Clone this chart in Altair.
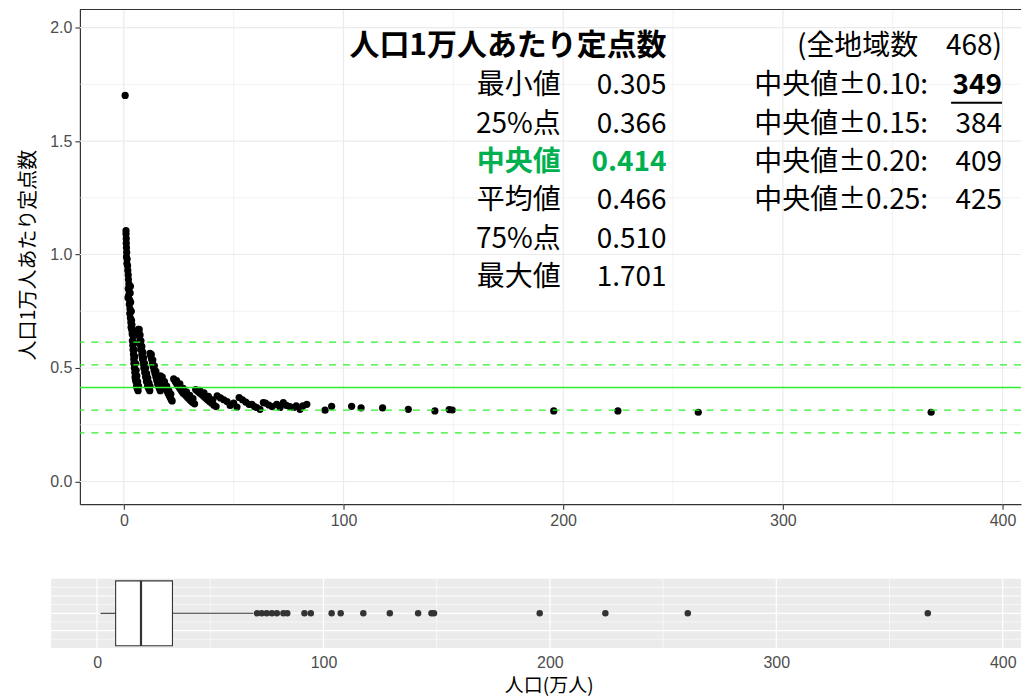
import altair as alt
import pandas as pd

CJK = "Noto Sans CJK JP"
LAT = "Liberation Sans"

# ---------------- data ----------------
# population (10k people) and fixed points per 10k people
pop_man = [
    0.6,
    1.0, 1.0, 1.1, 1.1, 1.2, 1.3, 1.2, 1.5, 1.4, 1.7, 1.8, 2.0, 2.1, 2.3, 2.0, 2.4, 2.2, 1.9, 2.6, 2.5, 2.8, 2.7, 3.0, 3.2, 3.3, 3.6,
    2.9, 3.1, 3.4, 3.0, 3.5, 3.7, 3.9,
    3.8, 3.9, 4.1, 4.2, 4.4, 4.5, 4.6, 4.8, 5.0, 5.1, 5.3, 5.5, 5.8, 6.1, 6.5,
    4.3, 4.6, 4.8, 5.0, 5.3, 5.6, 5.9, 6.3, 6.7,
    6.6, 6.9, 7.1, 7.3, 7.6, 7.9, 8.2, 8.5, 8.8, 9.1, 9.5, 9.9, 10.3, 10.8, 11.3, 11.8,
    7.0, 7.4, 7.8, 8.2, 8.6, 9.0, 9.4, 9.9, 10.4, 10.9, 11.4, 11.9,
    11.9, 12.2, 12.6, 13.0, 13.4, 13.8, 14.2, 14.6, 15.0, 15.4, 15.8, 16.2, 16.6,
    12.5, 13.2, 13.9, 14.6, 15.3, 16.0,
    16.7, 17.1, 17.6, 18.1, 18.6, 19.1, 19.6, 20.1, 20.6, 21.1, 21.6, 22.0,
    17.5, 18.5, 19.5, 20.5, 21.4,
    22.7, 23.4, 24.1, 24.8, 25.5, 26.2, 26.9, 27.6, 28.3, 29.0, 29.8, 30.6, 31.4, 32.2,
    24.0, 25.5, 27.0, 28.5, 30.0, 31.5,
    32.7, 33.6, 34.5, 35.4, 36.3, 37.2, 38.1, 39.0, 40.0, 41.0, 42.0,
    34.5, 36.5, 38.5, 40.5,
    42.5, 44.0, 45.5, 47.0, 48.4, 50.0, 51.5, 52.5, 54.0, 55.5, 57.0, 58.3, 59.5, 60.5, 62.0,
    63.5, 64.5, 66.0, 67.5, 69.6, 71.1, 72.6, 74.0, 75.5, 77.2, 78.5, 80.2, 81.5, 83.3,
    91.6, 94.6, 103.7, 108.0, 117.8, 129.5, 141.6, 148.1, 149.5, 195.7, 224.9, 261.5, 367.5,
]
rate = [
    1.701,
    1.105, 1.09, 1.07, 1.05, 1.03, 1.01, 0.99, 0.98, 0.96, 0.95, 0.93, 0.91, 0.89, 0.87, 0.85, 0.84, 0.82, 0.81, 0.80, 0.78, 0.76, 0.74, 0.72, 0.70, 0.68, 0.67,
    0.83, 0.79, 0.75, 0.86, 0.71, 0.69, 0.66,
    0.65, 0.62, 0.60, 0.58, 0.56, 0.54, 0.52, 0.50, 0.48, 0.46, 0.45, 0.44, 0.42, 0.41, 0.40,
    0.64, 0.61, 0.58, 0.55, 0.52, 0.49, 0.465, 0.44, 0.42,
    0.67, 0.655, 0.64, 0.62, 0.60, 0.58, 0.56, 0.54, 0.52, 0.50, 0.48, 0.46, 0.44, 0.42, 0.41, 0.40,
    0.67, 0.645, 0.62, 0.595, 0.57, 0.545, 0.52, 0.50, 0.475, 0.455, 0.435, 0.42,
    0.565, 0.555, 0.54, 0.52, 0.505, 0.49, 0.475, 0.46, 0.445, 0.43, 0.42, 0.41, 0.40,
    0.56, 0.535, 0.51, 0.485, 0.46, 0.44,
    0.465, 0.455, 0.445, 0.435, 0.42, 0.41, 0.40, 0.39, 0.38, 0.37, 0.36, 0.355,
    0.46, 0.44, 0.42, 0.40, 0.385,
    0.452, 0.44, 0.43, 0.42, 0.41, 0.40, 0.39, 0.385, 0.378, 0.37, 0.362, 0.355, 0.348, 0.342,
    0.445, 0.43, 0.41, 0.395, 0.38, 0.365,
    0.405, 0.398, 0.39, 0.383, 0.376, 0.368, 0.36, 0.352, 0.345, 0.336, 0.33,
    0.402, 0.39, 0.375, 0.36,
    0.377, 0.368, 0.36, 0.352, 0.335, 0.345, 0.328, 0.37, 0.36, 0.35, 0.34, 0.34, 0.33, 0.326, 0.318,
    0.348, 0.345, 0.337, 0.33, 0.34, 0.326, 0.348, 0.335, 0.33, 0.326, 0.333, 0.318, 0.333, 0.34,
    0.314, 0.331, 0.331, 0.324, 0.324, 0.318, 0.311, 0.317, 0.315, 0.311, 0.311, 0.305, 0.305,
]

stat_labels = ["最小値", "25%点", "中央値", "平均値", "75%点", "最大値"]
stat_values = ["0.305", "0.366", "0.414", "0.466", "0.510", "1.701"]
range_labels = ["中央値±0.10:", "中央値±0.15:", "中央値±0.20:", "中央値±0.25:"]
range_counts = ["349", "384", "409", "425"]
total_regions = "468"
median_rate = 0.414
band_offsets = [0.1, 0.2]

box_lower, box_q1, box_median, box_q3, box_upper = 1.5, 8.2, 19.4, 33.3, 68.9
box_outliers = [70.6, 72.7, 74.9, 77.2, 79.4, 82.3, 84.0, 91.6, 94.4, 103.6, 107.6,
                117.6, 129.3, 141.8, 147.7, 148.8, 195.5, 224.5, 260.9, 366.9]

x_major = [0, 100, 200, 300, 400]
x_minor = [50, 150, 250, 350]
y_major = [0.0, 0.5, 1.0, 1.5, 2.0]
y_minor = [0.25, 0.75, 1.25, 1.75]
b_major = [-0.2, 0.0, 0.2]
b_minor = [-0.3, -0.1, 0.1, 0.3]

# ---------------- layout ----------------
W = 942.5
H_TOP = 495.4
H_BOT = 69.4
xs = alt.Scale(domain=[-20, -20 + W / 2.2], nice=False, zero=False)
ys = alt.Scale(domain=[-0.1, 2.0795], nice=False, zero=False)
bxs = alt.Scale(domain=[-7.585, -7.585 + W / 2.2675], nice=False, zero=False)
bys = alt.Scale(domain=[-0.4, 0.4], nice=False, zero=False)

scatter_df = pd.DataFrame({"pop": pop_man, "rate": rate})


def rules_x(vals, width, color, scale):
    return alt.Chart(pd.DataFrame({"v": vals})).mark_rule(color=color, strokeWidth=width).encode(
        x=alt.X("v:Q", scale=scale, axis=None))


def rules_y(vals, width, color, scale):
    return alt.Chart(pd.DataFrame({"v": vals})).mark_rule(color=color, strokeWidth=width).encode(
        y=alt.Y("v:Q", scale=scale, axis=None))


def txt(s, x, y, align="right", size=28, weight="normal", color="black"):
    return alt.Chart(pd.DataFrame({"t": [s]})).mark_text(
        align=align, baseline="middle", font=CJK, fontSize=size, fontWeight=weight, color=color
    ).encode(text="t:N", x=alt.value(x), y=alt.value(y))


grid_col = "#EBEBEB"

# first layer: invisible, only carries the axes
axis_layer = alt.Chart(scatter_df).mark_circle(size=1, opacity=0).encode(
    x=alt.X("pop:Q", scale=xs, axis=alt.Axis(
        values=x_major, grid=False, title=None, domainColor="#333333", domainWidth=1.2,
        tickColor="#333333", tickSize=5, tickWidth=1.1, labelColor="#4D4D4D",
        labelFont=LAT, labelFontSize=16, labelPadding=3, format="d")),
    y=alt.Y("rate:Q", scale=ys, axis=alt.Axis(
        values=y_major, grid=False, format=".1f", title="人口1万人あたり定点数",
        titleFont=CJK, titleFontSize=20, titleFontWeight="normal", titleColor="black",
        titleX=-51.5, titleY=245.5, titleAngle=270, titleAlign="center", titleBaseline="middle",
        domainColor="#333333", domainWidth=1.2, tickColor="#333333", tickSize=5, tickWidth=1.1,
        labelColor="#4D4D4D", labelFont=LAT, labelFontSize=16, labelPadding=3)),
)

top_layers = [
    axis_layer,
    rules_x(x_minor, 0.6, grid_col, xs),
    rules_y(y_minor, 0.6, grid_col, ys),
    rules_x(x_major, 1.2, grid_col, xs),
    rules_y(y_major, 1.2, grid_col, ys),
]

points = alt.Chart(scatter_df).mark_circle(size=52, color="black", opacity=1).encode(
    x=alt.X("pop:Q", scale=xs, axis=None),
    y=alt.Y("rate:Q", scale=ys, axis=None),
)
top_layers.append(points)

line_green = "#2CF02C"
solid_df = pd.DataFrame({"v": [median_rate]})
dash_df = pd.DataFrame({"v": [median_rate + s * d for d in band_offsets for s in (-1, 1)]})
top_layers.append(alt.Chart(solid_df).mark_rule(color=line_green, strokeWidth=1.4).encode(
    y=alt.Y("v:Q", scale=ys, axis=None)))
top_layers.append(alt.Chart(dash_df).mark_rule(color=line_green, strokeWidth=1.3, strokeDash=[7, 7]).encode(
    y=alt.Y("v:Q", scale=ys, axis=None)))

# top border of panel
top_layers.append(alt.Chart(pd.DataFrame({"a": [0]})).mark_rule(color="#333333", strokeWidth=1.2).encode(
    x=alt.value(0), x2=alt.value(W), y=alt.value(0)))

# annotation block
ox, oy = 79.5, 8
row0, dy = 85, 38.35
top_layers.append(txt("人口1万人あたり定点数", 667 - ox, 45 - oy, size=30, weight="bold"))
green = "#00B050"
for i, (lab, val) in enumerate(zip(stat_labels, stat_values)):
    yy = row0 + i * dy - oy
    is_med = lab == "中央値"
    top_layers.append(txt(lab, 561 - ox, yy, weight="bold" if is_med else "normal",
                          color=green if is_med else "black"))
    top_layers.append(txt(val, 667 - ox, yy, weight="bold" if is_med else "normal",
                          color=green if is_med else "black"))
top_layers.append(txt("(全地域数　" + total_regions + ")", 1003 - ox, 46 - oy))
for i, (lab, cnt) in enumerate(zip(range_labels, range_counts)):
    yy = row0 + i * dy - oy
    top_layers.append(txt(lab, 929 - ox, yy))
    top_layers.append(txt(cnt, 1003 - ox, yy, weight="bold" if i == 0 else "normal"))
top_layers.append(alt.Chart(pd.DataFrame({"a": [0]})).mark_rule(color="black", strokeWidth=2).encode(
    x=alt.value(952 - ox), x2=alt.value(1003 - ox), y=alt.value(101.5 - oy)))

top = alt.layer(*top_layers).resolve_axis(x="independent", y="independent").properties(
    width=W, height=H_TOP)

# ---------------- bottom boxplot ----------------
left_px = 50.7 - ox
dark = "#333333"

bot_axis = alt.Chart(pd.DataFrame({"v": x_major})).mark_rule(opacity=0).encode(
    x=alt.X("v:Q", scale=bxs, axis=alt.Axis(
        values=x_major, grid=False, ticks=False, tickSize=0, domain=False, labelColor="#4D4D4D",
        labelFont=LAT, labelFontSize=16, labelPadding=7, format="d",
        title="人口(万人)", titleFont=CJK, titleFontSize=19, titleFontWeight="normal",
        titleColor="black", titleX=549 - ox, titleY=37.5, titleAlign="center",
        titleBaseline="middle")))

bg = alt.Chart(pd.DataFrame({"a": [0]})).mark_rect(color="#EBEBEB").encode(
    x=alt.value(left_px), x2=alt.value(W), y=alt.value(0), y2=alt.value(H_BOT))


def hrules(vals, width):
    return alt.Chart(pd.DataFrame({"v": vals})).mark_rule(color="white", strokeWidth=width).encode(
        y=alt.Y("v:Q", scale=bys, axis=None), x=alt.value(left_px), x2=alt.value(W))


box_df = pd.DataFrame({"lower": [box_lower], "q1": [box_q1], "median": [box_median],
                       "q3": [box_q3], "upper": [box_upper], "lo": [-0.375], "hi": [0.375], "c": [0.0]})
out_df = pd.DataFrame({"pop": box_outliers, "c": [0.0] * len(box_outliers)})

bot_layers = [
    bot_axis,
    bg,
    hrules(b_minor, 0.6),
    hrules(b_major, 1.2),
    alt.Chart(pd.DataFrame({"v": x_minor})).mark_rule(color="white", strokeWidth=0.6).encode(
        x=alt.X("v:Q", scale=bxs, axis=None)),
    alt.Chart(pd.DataFrame({"v": x_major})).mark_rule(color="white", strokeWidth=1.2).encode(
        x=alt.X("v:Q", scale=bxs, axis=None)),
    alt.Chart(box_df).mark_rule(color=dark, strokeWidth=1.1).encode(
        x=alt.X("lower:Q", scale=bxs, axis=None), x2="q1:Q", y=alt.Y("c:Q", scale=bys, axis=None)),
    alt.Chart(box_df).mark_rule(color=dark, strokeWidth=1.1).encode(
        x=alt.X("q3:Q", scale=bxs, axis=None), x2="upper:Q", y=alt.Y("c:Q", scale=bys, axis=None)),
    alt.Chart(box_df).mark_rect(fill="white", stroke=dark, strokeWidth=1.1).encode(
        x=alt.X("q1:Q", scale=bxs, axis=None), x2="q3:Q",
        y=alt.Y("lo:Q", scale=bys, axis=None), y2="hi:Q"),
    alt.Chart(box_df).mark_rule(color=dark, strokeWidth=2.2).encode(
        x=alt.X("median:Q", scale=bxs, axis=None),
        y=alt.Y("lo:Q", scale=bys, axis=None), y2="hi:Q"),
    alt.Chart(out_df).mark_circle(size=42, color=dark, opacity=1).encode(
        x=alt.X("pop:Q", scale=bxs, axis=None), y=alt.Y("c:Q", scale=bys, axis=None)),
]
bottom = alt.layer(*bot_layers).resolve_axis(x="independent", y="independent").properties(
    width=W, height=H_BOT)

chart = alt.vconcat(top, bottom, spacing=49).properties(
    padding={"left": 10, "top": 0, "right": 0, "bottom": 0},
    background="white",
).configure_view(strokeWidth=0)

chart.save("out.html", embed_options={"renderer": "svg", "actions": False})
